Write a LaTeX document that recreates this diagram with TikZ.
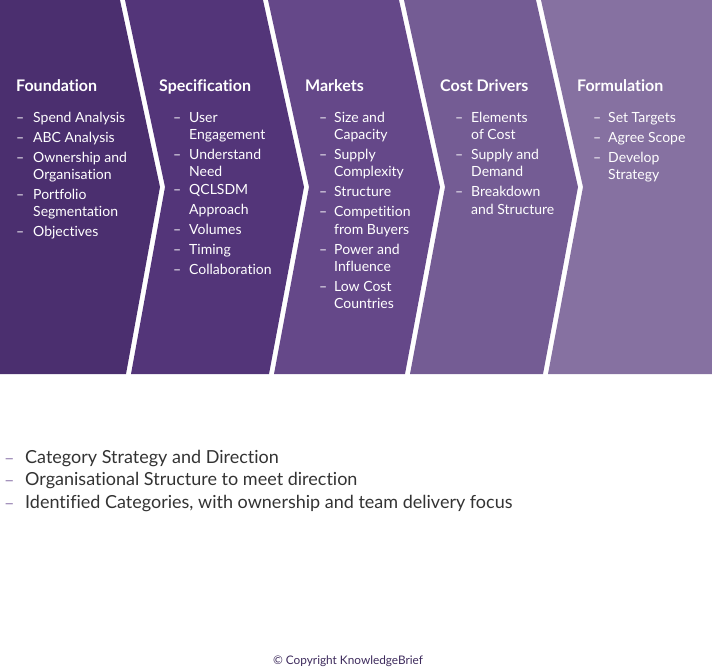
\documentclass[tikz,border=0pt]{standalone}
\usepackage{fontspec}
\setmainfont{Lato}[Ligatures={NoCommon,NoDiscretionary}]
\definecolor{cA}{HTML}{4B2F6F}
\definecolor{cB}{HTML}{533579}
\definecolor{cC}{HTML}{654889}
\definecolor{cD}{HTML}{745C94}
\definecolor{cE}{HTML}{8671A1}
\definecolor{txt}{HTML}{333333}
\definecolor{dashc}{HTML}{9A86B4}
\definecolor{copyc}{HTML}{3D2A5C}
\tikzset{x=1pt,y=-1pt,
 title/.style={anchor=base west,text=white,font=\fontsize{16}{18}\selectfont\bfseries,inner sep=0},
 item/.style={anchor=base west,text=white,font=\fontsize{14}{16}\selectfont,inner sep=0},
 low/.style={anchor=base west,text=txt,font=\fontsize{18}{21}\selectfont,inner sep=0}}
\begin{document}
\begin{tikzpicture}
\useasboundingbox (0,0) rectangle (712,667);
\fill[cA] (0,0) -- (120,0) -- (160,187) -- (126,374) -- (0,374) -- cycle;
\fill[cB] (125,0) -- (263,0) -- (304,187) -- (269,374) -- (131,374) -- (165,187) -- cycle;
\fill[cC] (268,0) -- (399,0) -- (440,187) -- (405,374) -- (274,374) -- (309,187) -- cycle;
\fill[cD] (404,0) -- (536,0) -- (578,187) -- (543,374) -- (410,374) -- (445,187) -- cycle;
\fill[cE] (541,0) -- (712,0) -- (712,374) -- (548,374) -- (583,187) -- cycle;
\node[title] (t1) at (16,91) {Foundation};
\node[title] (t2) at (159,91) {Specification};
\node[title] (t3) at (305,91) {Markets};
\node[title] (t4) at (440,91) {Cost Drivers};
\node[title] (t5) at (577,91) {Formulation};
\foreach \dx/\tx/\y/\d/\s in {
 16/33/117/1/Spend Analysis, 16/33/137/1/ABC Analysis, 16/33/157/1/Ownership and, 16/33/174/0/Organisation,
 16/33/194/1/Portfolio, 16/33/211/0/Segmentation, 16/33/231/1/Objectives,
 173/189/117/1/User, 173/189/134/0/Engagement, 173/189/154/1/Understand, 173/189/171/0/Need,
 173/189/189/1/QCLSDM, 173/189/209/0/Approach, 173/189/229/1/Volumes, 173/189/249/1/Timing, 173/189/269/1/Collaboration,
 319/334/117/1/Size and, 319/334/134/0/Capacity, 319/334/154/1/Supply, 319/334/171/0/Complexity,
 319/334/191/1/Structure, 319/334/211/1/Competition, 319/334/229/0/from Buyers, 319/334/249/1/Power and,
 319/334/266/0/Influence, 319/334/286/1/Low Cost, 319/334/303/0/Countries,
 455/471/117/1/Elements, 455/471/134/0/of Cost, 455/471/154/1/Supply and, 455/471/171/0/Demand,
 455/471/191/1/Breakdown, 455/471/209/0/and Structure,
 593/608/117/1/Set Targets, 593/608/137/1/Agree Scope, 593/608/157/1/Develop, 593/608/174/0/Strategy}
 {\node[item] (i\dx-\y) at (\tx,\y+5) {\s};
  \ifnum\d=1 \node[item] (d\dx-\y) at (\dx,\y+5) {–};\fi}
\foreach \y/\s in {457/{Category Strategy and Direction}, 479/{Organisational Structure to meet direction}, 502/{Identified Categories, with ownership and team delivery focus}}
 {\node[low] (b\y) at (25,\y+6) {\s};
  \node[low,text=dashc] (bd\y) at (4,\y+7) {–};}
\node[text=copyc,font=\fontsize{11.8}{14}\selectfont,inner sep=0] (copy) at (348,661) {© Copyright KnowledgeBrief};
\end{tikzpicture}
\end{document}
